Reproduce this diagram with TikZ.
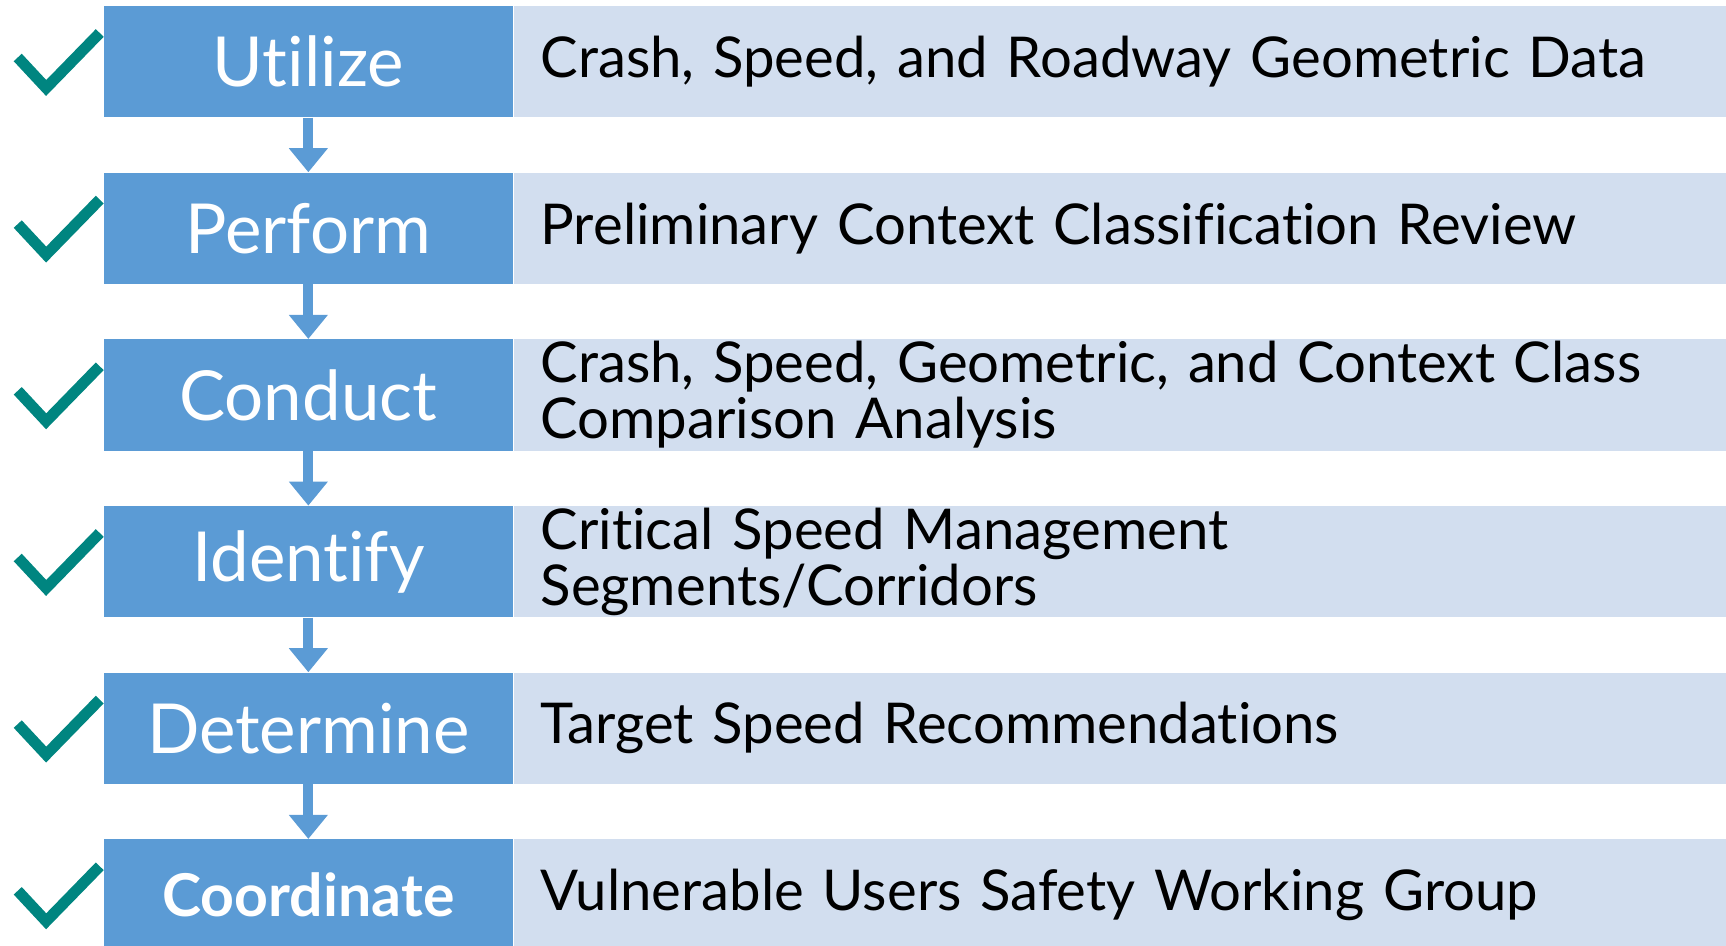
\documentclass[tikz,border=0pt]{standalone}
\usepackage{fontspec}
\setmainfont[Ligatures=NoCommon]{Lato}
\newfontfamily\stepfont[Ligatures=NoCommon]{Lato}
\newfontfamily\detailfont[Scale=0.97,Ligatures=NoCommon]{Lato}
\newcommand\steptext{\stepfont\fontsize{34.5}{40}\selectfont}
\newcommand\detailtext{\detailfont\fontsize{29}{28}\selectfont\spaceskip=0.6\fontdimen2\font\relax}
\usetikzlibrary{arrows.meta}

\begin{document}
\begin{tikzpicture}[x=0.5pt,y=0.5pt,
  stepbox/.style={fill=stepblue,text=white,minimum width=204.5pt,minimum height=55.65pt,inner sep=0pt,font=\steptext},
  detailbox/.style={fill=detailblue,anchor=west,minimum height=55.65pt,inner xsep=13.5pt,inner ysep=0pt,text width=579.5pt,align=left,font=\detailtext},
  flow/.style={draw=stepblue,line width=5pt,-{Triangle[width=18.75pt,length=12pt]}},
  tick/.style={draw=checkteal,line width=5.5pt,miter limit=10}]
% Define colors
\definecolor{stepblue}{RGB}{91,155,213}
\definecolor{detailblue}{RGB}{210,222,239}
\definecolor{checkteal}{RGB}{0,133,128}

\useasboundingbox (0,0) rectangle (1726,946);

% Steps on the left
\node[stepbox] (s1) at (308.35,884.3) {Utilize};
\node[stepbox] (s2) at (308.35,717.7) {Perform};
\node[stepbox] (s3) at (308.35,551) {Conduct};
\node[stepbox] (s4) at (308.35,384.3) {Identify};
\node[stepbox] (s5) at (308.35,217.7) {Determine};
\node[stepbox,font=\stepfont\fontsize{29.5}{32}\selectfont\bfseries] (s6) at (308.35,51) {Coordinate};

% Details on the right
\node[detailbox] (d1) at (s1.east) {Crash, Speed, and Roadway Geometric Data};
\node[detailbox] (d2) at (s2.east) {Preliminary Context Classification Review};
\node[detailbox] (d3) at (s3.east) {Crash, Speed, Geometric, and Context Class\\Comparison Analysis};
\node[detailbox] (d4) at (s4.east) {Critical Speed Management\\Segments/Corridors};
\node[detailbox] (d5) at (s5.east) {Target Speed Recommendations};
\node[detailbox] (d6) at (s6.east) {Vulnerable Users Safety Working Group};

% Arrows between steps
\draw[flow] (s1) -- (s2);
\draw[flow] (s2) -- (s3);
\draw[flow] (s3) -- (s4);
\draw[flow] (s4) -- (s5);
\draw[flow] (s5) -- (s6);

% Check marks
\draw[tick] ([shift={(-85.7,4.2)}]s1.west) -- ([shift={(-57.3,-26.3)}]s1.west) -- ([shift={(-3.7,28.7)}]s1.west);
\draw[tick] ([shift={(-85.7,4.2)}]s2.west) -- ([shift={(-57.3,-26.3)}]s2.west) -- ([shift={(-3.7,28.7)}]s2.west);
\draw[tick] ([shift={(-85.7,4.2)}]s3.west) -- ([shift={(-57.3,-26.3)}]s3.west) -- ([shift={(-3.7,28.7)}]s3.west);
\draw[tick] ([shift={(-85.7,4.2)}]s4.west) -- ([shift={(-57.3,-26.3)}]s4.west) -- ([shift={(-3.7,28.7)}]s4.west);
\draw[tick] ([shift={(-85.7,4.2)}]s5.west) -- ([shift={(-57.3,-26.3)}]s5.west) -- ([shift={(-3.7,28.7)}]s5.west);
\draw[tick] ([shift={(-85.7,4.2)}]s6.west) -- ([shift={(-57.3,-26.3)}]s6.west) -- ([shift={(-3.7,28.7)}]s6.west);
\end{tikzpicture}
\end{document}
